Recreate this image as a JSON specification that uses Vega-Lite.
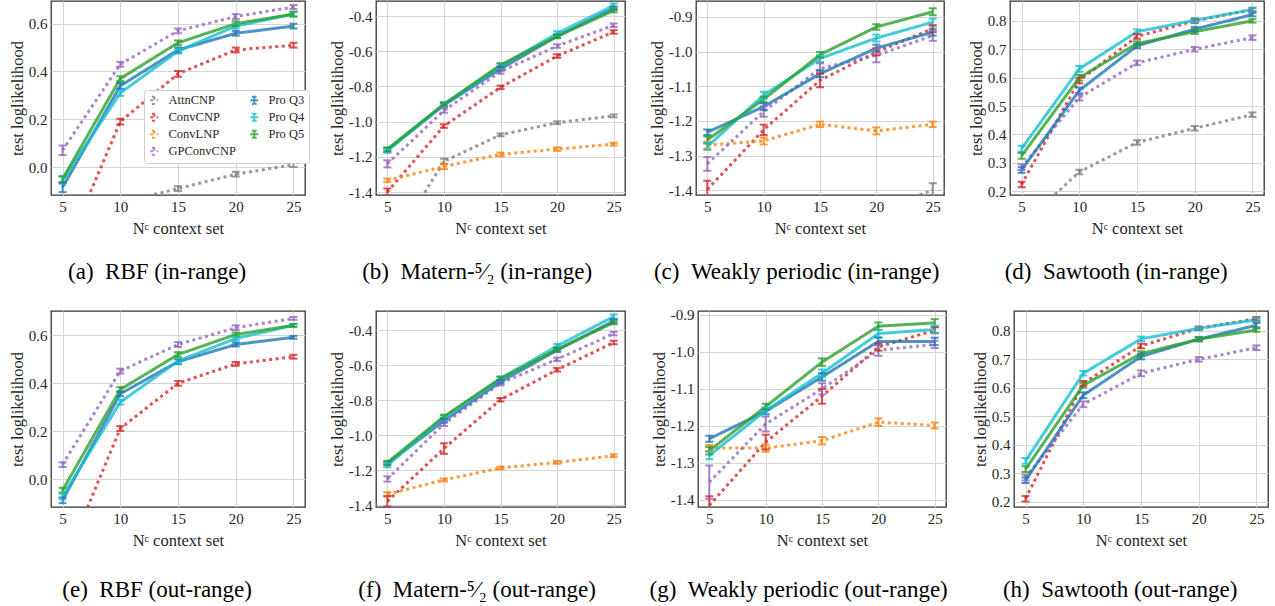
{
  "$schema": "https://vega.github.io/schema/vega-lite/v6.json",
  "padding": {"left": 8, "top": 0, "right": 0, "bottom": 0},
  "background": "white",
  "config": {
    "font": "Liberation Serif",
    "view": {"stroke": "#333333", "strokeWidth": 1.3},
    "axis": {"labelFont": "Liberation Serif", "labelFontSize": 15, "labelColor": "#262626", "titleFont": "Liberation Serif", "titleFontSize": 16.5, "titleFontWeight": "normal", "titleColor": "#262626", "gridColor": "#d5d5d5", "gridWidth": 1, "ticks": false, "domain": false, "labelPadding": 4},
    "title": {"font": "Liberation Serif", "fontSize": 23, "fontWeight": "normal", "color": "#000000"},
    "legend": {"labelFont": "Liberation Serif", "labelFontSize": 12.5}
  },
  "data": {"name": "d"},
  "datasets": {"d": [
{"panel":"a","model":"AttnCNP","n":5,"y":-0.5,"lo":-0.52,"hi":-0.48},
{"panel":"a","model":"AttnCNP","n":10,"y":-0.15,"lo":-0.16,"hi":-0.14},
{"panel":"a","model":"AttnCNP","n":15,"y":-0.09,"lo":-0.1,"hi":-0.08},
{"panel":"a","model":"AttnCNP","n":20,"y":-0.03,"lo":-0.04,"hi":-0.02},
{"panel":"a","model":"AttnCNP","n":25,"y":0.01,"lo":0.0,"hi":0.02},
{"panel":"a","model":"ConvCNP","n":5,"y":-0.38,"lo":-0.39,"hi":-0.37},
{"panel":"a","model":"ConvCNP","n":10,"y":0.19,"lo":0.178,"hi":0.202},
{"panel":"a","model":"ConvCNP","n":15,"y":0.39,"lo":0.378,"hi":0.402},
{"panel":"a","model":"ConvCNP","n":20,"y":0.49,"lo":0.48,"hi":0.5},
{"panel":"a","model":"ConvCNP","n":25,"y":0.51,"lo":0.5,"hi":0.52},
{"panel":"a","model":"GPConvCNP","n":5,"y":0.07,"lo":0.05,"hi":0.09},
{"panel":"a","model":"GPConvCNP","n":10,"y":0.43,"lo":0.42,"hi":0.44},
{"panel":"a","model":"GPConvCNP","n":15,"y":0.57,"lo":0.56,"hi":0.58},
{"panel":"a","model":"GPConvCNP","n":20,"y":0.63,"lo":0.62,"hi":0.64},
{"panel":"a","model":"GPConvCNP","n":25,"y":0.67,"lo":0.662,"hi":0.678},
{"panel":"a","model":"Pro Q3","n":5,"y":-0.085,"lo":-0.105,"hi":-0.065},
{"panel":"a","model":"Pro Q3","n":10,"y":0.34,"lo":0.328,"hi":0.352},
{"panel":"a","model":"Pro Q3","n":15,"y":0.49,"lo":0.48,"hi":0.5},
{"panel":"a","model":"Pro Q3","n":20,"y":0.56,"lo":0.55,"hi":0.57},
{"panel":"a","model":"Pro Q3","n":25,"y":0.59,"lo":0.58,"hi":0.6},
{"panel":"a","model":"Pro Q4","n":5,"y":-0.055,"lo":-0.07,"hi":-0.04},
{"panel":"a","model":"Pro Q4","n":10,"y":0.31,"lo":0.298,"hi":0.322},
{"panel":"a","model":"Pro Q4","n":15,"y":0.485,"lo":0.475,"hi":0.495},
{"panel":"a","model":"Pro Q4","n":20,"y":0.59,"lo":0.58,"hi":0.6},
{"panel":"a","model":"Pro Q4","n":25,"y":0.64,"lo":0.63,"hi":0.65},
{"panel":"a","model":"Pro Q5","n":5,"y":-0.05,"lo":-0.062,"hi":-0.038},
{"panel":"a","model":"Pro Q5","n":10,"y":0.37,"lo":0.36,"hi":0.38},
{"panel":"a","model":"Pro Q5","n":15,"y":0.52,"lo":0.51,"hi":0.53},
{"panel":"a","model":"Pro Q5","n":20,"y":0.6,"lo":0.59,"hi":0.61},
{"panel":"a","model":"Pro Q5","n":25,"y":0.64,"lo":0.63,"hi":0.65},

{"panel":"b","model":"AttnCNP","n":5,"y":-1.75,"lo":-1.77,"hi":-1.73},
{"panel":"b","model":"AttnCNP","n":10,"y":-1.225,"lo":-1.24,"hi":-1.21},
{"panel":"b","model":"AttnCNP","n":15,"y":-1.075,"lo":-1.083,"hi":-1.067},
{"panel":"b","model":"AttnCNP","n":20,"y":-1.006,"lo":-1.014,"hi":-0.998},
{"panel":"b","model":"AttnCNP","n":25,"y":-0.967,"lo":-0.975,"hi":-0.959},
{"panel":"b","model":"ConvCNP","n":5,"y":-1.4,"lo":-1.42,"hi":-1.38},
{"panel":"b","model":"ConvCNP","n":10,"y":-1.025,"lo":-1.035,"hi":-1.015},
{"panel":"b","model":"ConvCNP","n":15,"y":-0.805,"lo":-0.815,"hi":-0.795},
{"panel":"b","model":"ConvCNP","n":20,"y":-0.627,"lo":-0.637,"hi":-0.617},
{"panel":"b","model":"ConvCNP","n":25,"y":-0.49,"lo":-0.5,"hi":-0.48},
{"panel":"b","model":"ConvLNP","n":5,"y":-1.334,"lo":-1.344,"hi":-1.324},
{"panel":"b","model":"ConvLNP","n":10,"y":-1.255,"lo":-1.27,"hi":-1.24},
{"panel":"b","model":"ConvLNP","n":15,"y":-1.186,"lo":-1.196,"hi":-1.176},
{"panel":"b","model":"ConvLNP","n":20,"y":-1.156,"lo":-1.166,"hi":-1.146},
{"panel":"b","model":"ConvLNP","n":25,"y":-1.128,"lo":-1.136,"hi":-1.12},
{"panel":"b","model":"GPConvCNP","n":5,"y":-1.24,"lo":-1.26,"hi":-1.22},
{"panel":"b","model":"GPConvCNP","n":10,"y":-0.937,"lo":-0.949,"hi":-0.925},
{"panel":"b","model":"GPConvCNP","n":15,"y":-0.715,"lo":-0.727,"hi":-0.703},
{"panel":"b","model":"GPConvCNP","n":20,"y":-0.57,"lo":-0.58,"hi":-0.56},
{"panel":"b","model":"GPConvCNP","n":25,"y":-0.452,"lo":-0.462,"hi":-0.442},
{"panel":"b","model":"Pro Q3","n":5,"y":-1.162,"lo":-1.172,"hi":-1.152},
{"panel":"b","model":"Pro Q3","n":10,"y":-0.906,"lo":-0.916,"hi":-0.896},
{"panel":"b","model":"Pro Q3","n":15,"y":-0.7,"lo":-0.71,"hi":-0.69},
{"panel":"b","model":"Pro Q3","n":20,"y":-0.515,"lo":-0.525,"hi":-0.505},
{"panel":"b","model":"Pro Q3","n":25,"y":-0.355,"lo":-0.365,"hi":-0.345},
{"panel":"b","model":"Pro Q4","n":5,"y":-1.165,"lo":-1.177,"hi":-1.153},
{"panel":"b","model":"Pro Q4","n":10,"y":-0.903,"lo":-0.915,"hi":-0.891},
{"panel":"b","model":"Pro Q4","n":15,"y":-0.683,"lo":-0.695,"hi":-0.671},
{"panel":"b","model":"Pro Q4","n":20,"y":-0.498,"lo":-0.51,"hi":-0.486},
{"panel":"b","model":"Pro Q4","n":25,"y":-0.34,"lo":-0.352,"hi":-0.328},
{"panel":"b","model":"Pro Q5","n":5,"y":-1.156,"lo":-1.166,"hi":-1.146},
{"panel":"b","model":"Pro Q5","n":10,"y":-0.9,"lo":-0.91,"hi":-0.89},
{"panel":"b","model":"Pro Q5","n":15,"y":-0.678,"lo":-0.688,"hi":-0.668},
{"panel":"b","model":"Pro Q5","n":20,"y":-0.515,"lo":-0.525,"hi":-0.505},
{"panel":"b","model":"Pro Q5","n":25,"y":-0.368,"lo":-0.378,"hi":-0.358},

{"panel":"c","model":"AttnCNP","n":5,"y":-2.0,"lo":-2.02,"hi":-1.98},
{"panel":"c","model":"AttnCNP","n":10,"y":-1.7,"lo":-1.72,"hi":-1.68},
{"panel":"c","model":"AttnCNP","n":15,"y":-1.55,"lo":-1.57,"hi":-1.53},
{"panel":"c","model":"AttnCNP","n":20,"y":-1.46,"lo":-1.48,"hi":-1.44},
{"panel":"c","model":"AttnCNP","n":25,"y":-1.4,"lo":-1.42,"hi":-1.38},
{"panel":"c","model":"ConvCNP","n":5,"y":-1.398,"lo":-1.423,"hi":-1.373},
{"panel":"c","model":"ConvCNP","n":10,"y":-1.226,"lo":-1.241,"hi":-1.211},
{"panel":"c","model":"ConvCNP","n":15,"y":-1.083,"lo":-1.103,"hi":-1.063},
{"panel":"c","model":"ConvCNP","n":20,"y":-1.001,"lo":-1.011,"hi":-0.991},
{"panel":"c","model":"ConvCNP","n":25,"y":-0.934,"lo":-0.944,"hi":-0.924},
{"panel":"c","model":"ConvLNP","n":5,"y":-1.27,"lo":-1.28,"hi":-1.26},
{"panel":"c","model":"ConvLNP","n":10,"y":-1.258,"lo":-1.268,"hi":-1.248},
{"panel":"c","model":"ConvLNP","n":15,"y":-1.21,"lo":-1.218,"hi":-1.202},
{"panel":"c","model":"ConvLNP","n":20,"y":-1.229,"lo":-1.239,"hi":-1.219},
{"panel":"c","model":"ConvLNP","n":25,"y":-1.21,"lo":-1.218,"hi":-1.202},
{"panel":"c","model":"GPConvCNP","n":5,"y":-1.324,"lo":-1.344,"hi":-1.304},
{"panel":"c","model":"GPConvCNP","n":10,"y":-1.173,"lo":-1.188,"hi":-1.158},
{"panel":"c","model":"GPConvCNP","n":15,"y":-1.049,"lo":-1.064,"hi":-1.034},
{"panel":"c","model":"GPConvCNP","n":20,"y":-1.011,"lo":-1.031,"hi":-0.991},
{"panel":"c","model":"GPConvCNP","n":25,"y":-0.954,"lo":-0.969,"hi":-0.939},
{"panel":"c","model":"Pro Q3","n":5,"y":-1.233,"lo":-1.241,"hi":-1.225},
{"panel":"c","model":"Pro Q3","n":10,"y":-1.159,"lo":-1.169,"hi":-1.149},
{"panel":"c","model":"Pro Q3","n":15,"y":-1.064,"lo":-1.074,"hi":-1.054},
{"panel":"c","model":"Pro Q3","n":20,"y":-0.99,"lo":-1.0,"hi":-0.98},
{"panel":"c","model":"Pro Q3","n":25,"y":-0.944,"lo":-0.954,"hi":-0.934},
{"panel":"c","model":"Pro Q4","n":5,"y":-1.274,"lo":-1.284,"hi":-1.264},
{"panel":"c","model":"Pro Q4","n":10,"y":-1.126,"lo":-1.136,"hi":-1.116},
{"panel":"c","model":"Pro Q4","n":15,"y":-1.02,"lo":-1.03,"hi":-1.01},
{"panel":"c","model":"Pro Q4","n":20,"y":-0.961,"lo":-0.971,"hi":-0.951},
{"panel":"c","model":"Pro Q4","n":25,"y":-0.915,"lo":-0.925,"hi":-0.905},
{"panel":"c","model":"Pro Q5","n":5,"y":-1.255,"lo":-1.265,"hi":-1.245},
{"panel":"c","model":"Pro Q5","n":10,"y":-1.138,"lo":-1.146,"hi":-1.13},
{"panel":"c","model":"Pro Q5","n":15,"y":-1.009,"lo":-1.017,"hi":-1.001},
{"panel":"c","model":"Pro Q5","n":20,"y":-0.929,"lo":-0.937,"hi":-0.921},
{"panel":"c","model":"Pro Q5","n":25,"y":-0.885,"lo":-0.895,"hi":-0.875},

{"panel":"d","model":"AttnCNP","n":5,"y":0.08,"lo":0.07,"hi":0.09},
{"panel":"d","model":"AttnCNP","n":10,"y":0.268,"lo":0.26,"hi":0.276},
{"panel":"d","model":"AttnCNP","n":15,"y":0.372,"lo":0.364,"hi":0.38},
{"panel":"d","model":"AttnCNP","n":20,"y":0.422,"lo":0.414,"hi":0.43},
{"panel":"d","model":"AttnCNP","n":25,"y":0.47,"lo":0.462,"hi":0.478},
{"panel":"d","model":"ConvCNP","n":5,"y":0.224,"lo":0.214,"hi":0.234},
{"panel":"d","model":"ConvCNP","n":10,"y":0.59,"lo":0.58,"hi":0.6},
{"panel":"d","model":"ConvCNP","n":15,"y":0.745,"lo":0.737,"hi":0.753},
{"panel":"d","model":"ConvCNP","n":20,"y":0.8,"lo":0.792,"hi":0.808},
{"panel":"d","model":"ConvCNP","n":25,"y":0.84,"lo":0.834,"hi":0.846},
{"panel":"d","model":"GPConvCNP","n":5,"y":0.285,"lo":0.275,"hi":0.295},
{"panel":"d","model":"GPConvCNP","n":10,"y":0.53,"lo":0.52,"hi":0.54},
{"panel":"d","model":"GPConvCNP","n":15,"y":0.652,"lo":0.644,"hi":0.66},
{"panel":"d","model":"GPConvCNP","n":20,"y":0.7,"lo":0.692,"hi":0.708},
{"panel":"d","model":"GPConvCNP","n":25,"y":0.741,"lo":0.733,"hi":0.749},
{"panel":"d","model":"Pro Q3","n":5,"y":0.275,"lo":0.265,"hi":0.285},
{"panel":"d","model":"Pro Q3","n":10,"y":0.555,"lo":0.545,"hi":0.565},
{"panel":"d","model":"Pro Q3","n":15,"y":0.712,"lo":0.704,"hi":0.72},
{"panel":"d","model":"Pro Q3","n":20,"y":0.771,"lo":0.763,"hi":0.779},
{"panel":"d","model":"Pro Q3","n":25,"y":0.822,"lo":0.816,"hi":0.828},
{"panel":"d","model":"Pro Q4","n":5,"y":0.35,"lo":0.34,"hi":0.36},
{"panel":"d","model":"Pro Q4","n":10,"y":0.631,"lo":0.621,"hi":0.641},
{"panel":"d","model":"Pro Q4","n":15,"y":0.762,"lo":0.754,"hi":0.77},
{"panel":"d","model":"Pro Q4","n":20,"y":0.802,"lo":0.794,"hi":0.81},
{"panel":"d","model":"Pro Q4","n":25,"y":0.84,"lo":0.834,"hi":0.846},
{"panel":"d","model":"Pro Q5","n":5,"y":0.325,"lo":0.315,"hi":0.335},
{"panel":"d","model":"Pro Q5","n":10,"y":0.6,"lo":0.59,"hi":0.61},
{"panel":"d","model":"Pro Q5","n":15,"y":0.72,"lo":0.712,"hi":0.728},
{"panel":"d","model":"Pro Q5","n":20,"y":0.762,"lo":0.754,"hi":0.77},
{"panel":"d","model":"Pro Q5","n":25,"y":0.8,"lo":0.794,"hi":0.806},

{"panel":"e","model":"ConvCNP","n":5,"y":-0.37,"lo":-0.38,"hi":-0.36},
{"panel":"e","model":"ConvCNP","n":10,"y":0.211,"lo":0.201,"hi":0.221},
{"panel":"e","model":"ConvCNP","n":15,"y":0.4,"lo":0.39,"hi":0.41},
{"panel":"e","model":"ConvCNP","n":20,"y":0.481,"lo":0.473,"hi":0.489},
{"panel":"e","model":"ConvCNP","n":25,"y":0.511,"lo":0.503,"hi":0.519},
{"panel":"e","model":"GPConvCNP","n":5,"y":0.06,"lo":0.05,"hi":0.07},
{"panel":"e","model":"GPConvCNP","n":10,"y":0.451,"lo":0.441,"hi":0.461},
{"panel":"e","model":"GPConvCNP","n":15,"y":0.562,"lo":0.552,"hi":0.572},
{"panel":"e","model":"GPConvCNP","n":20,"y":0.632,"lo":0.622,"hi":0.642},
{"panel":"e","model":"GPConvCNP","n":25,"y":0.671,"lo":0.665,"hi":0.677},
{"panel":"e","model":"Pro Q3","n":5,"y":-0.089,"lo":-0.101,"hi":-0.077},
{"panel":"e","model":"Pro Q3","n":10,"y":0.356,"lo":0.346,"hi":0.366},
{"panel":"e","model":"Pro Q3","n":15,"y":0.49,"lo":0.48,"hi":0.5},
{"panel":"e","model":"Pro Q3","n":20,"y":0.562,"lo":0.554,"hi":0.57},
{"panel":"e","model":"Pro Q3","n":25,"y":0.592,"lo":0.586,"hi":0.598},
{"panel":"e","model":"Pro Q4","n":5,"y":-0.073,"lo":-0.085,"hi":-0.061},
{"panel":"e","model":"Pro Q4","n":10,"y":0.321,"lo":0.311,"hi":0.331},
{"panel":"e","model":"Pro Q4","n":15,"y":0.493,"lo":0.483,"hi":0.503},
{"panel":"e","model":"Pro Q4","n":20,"y":0.587,"lo":0.579,"hi":0.595},
{"panel":"e","model":"Pro Q4","n":25,"y":0.642,"lo":0.636,"hi":0.648},
{"panel":"e","model":"Pro Q5","n":5,"y":-0.047,"lo":-0.057,"hi":-0.037},
{"panel":"e","model":"Pro Q5","n":10,"y":0.374,"lo":0.364,"hi":0.384},
{"panel":"e","model":"Pro Q5","n":15,"y":0.52,"lo":0.51,"hi":0.53},
{"panel":"e","model":"Pro Q5","n":20,"y":0.604,"lo":0.596,"hi":0.612},
{"panel":"e","model":"Pro Q5","n":25,"y":0.642,"lo":0.636,"hi":0.648},

{"panel":"f","model":"ConvCNP","n":5,"y":-1.378,"lo":-1.408,"hi":-1.348},
{"panel":"f","model":"ConvCNP","n":10,"y":-1.076,"lo":-1.106,"hi":-1.046},
{"panel":"f","model":"ConvCNP","n":15,"y":-0.797,"lo":-0.807,"hi":-0.787},
{"panel":"f","model":"ConvCNP","n":20,"y":-0.626,"lo":-0.636,"hi":-0.616},
{"panel":"f","model":"ConvCNP","n":25,"y":-0.47,"lo":-0.48,"hi":-0.46},
{"panel":"f","model":"ConvLNP","n":5,"y":-1.337,"lo":-1.349,"hi":-1.325},
{"panel":"f","model":"ConvLNP","n":10,"y":-1.255,"lo":-1.263,"hi":-1.247},
{"panel":"f","model":"ConvLNP","n":15,"y":-1.187,"lo":-1.195,"hi":-1.179},
{"panel":"f","model":"ConvLNP","n":20,"y":-1.155,"lo":-1.163,"hi":-1.147},
{"panel":"f","model":"ConvLNP","n":25,"y":-1.117,"lo":-1.125,"hi":-1.109},
{"panel":"f","model":"GPConvCNP","n":5,"y":-1.25,"lo":-1.265,"hi":-1.235},
{"panel":"f","model":"GPConvCNP","n":10,"y":-0.935,"lo":-0.947,"hi":-0.923},
{"panel":"f","model":"GPConvCNP","n":15,"y":-0.703,"lo":-0.715,"hi":-0.691},
{"panel":"f","model":"GPConvCNP","n":20,"y":-0.566,"lo":-0.576,"hi":-0.556},
{"panel":"f","model":"GPConvCNP","n":25,"y":-0.419,"lo":-0.429,"hi":-0.409},
{"panel":"f","model":"Pro Q3","n":5,"y":-1.162,"lo":-1.172,"hi":-1.152},
{"panel":"f","model":"Pro Q3","n":10,"y":-0.918,"lo":-0.928,"hi":-0.908},
{"panel":"f","model":"Pro Q3","n":15,"y":-0.695,"lo":-0.705,"hi":-0.685},
{"panel":"f","model":"Pro Q3","n":20,"y":-0.514,"lo":-0.524,"hi":-0.504},
{"panel":"f","model":"Pro Q3","n":25,"y":-0.347,"lo":-0.357,"hi":-0.337},
{"panel":"f","model":"Pro Q4","n":5,"y":-1.171,"lo":-1.183,"hi":-1.159},
{"panel":"f","model":"Pro Q4","n":10,"y":-0.899,"lo":-0.911,"hi":-0.887},
{"panel":"f","model":"Pro Q4","n":15,"y":-0.676,"lo":-0.688,"hi":-0.664},
{"panel":"f","model":"Pro Q4","n":20,"y":-0.49,"lo":-0.502,"hi":-0.478},
{"panel":"f","model":"Pro Q4","n":25,"y":-0.322,"lo":-0.334,"hi":-0.31},
{"panel":"f","model":"Pro Q5","n":5,"y":-1.156,"lo":-1.166,"hi":-1.146},
{"panel":"f","model":"Pro Q5","n":10,"y":-0.893,"lo":-0.903,"hi":-0.883},
{"panel":"f","model":"Pro Q5","n":15,"y":-0.676,"lo":-0.686,"hi":-0.666},
{"panel":"f","model":"Pro Q5","n":20,"y":-0.509,"lo":-0.519,"hi":-0.499},
{"panel":"f","model":"Pro Q5","n":25,"y":-0.356,"lo":-0.366,"hi":-0.346},

{"panel":"g","model":"ConvCNP","n":5,"y":-1.415,"lo":-1.44,"hi":-1.39},
{"panel":"g","model":"ConvCNP","n":10,"y":-1.244,"lo":-1.264,"hi":-1.224},
{"panel":"g","model":"ConvCNP","n":15,"y":-1.12,"lo":-1.14,"hi":-1.1},
{"panel":"g","model":"ConvCNP","n":20,"y":-0.987,"lo":-0.997,"hi":-0.977},
{"panel":"g","model":"ConvCNP","n":25,"y":-0.942,"lo":-0.95,"hi":-0.934},
{"panel":"g","model":"ConvLNP","n":5,"y":-1.26,"lo":-1.268,"hi":-1.252},
{"panel":"g","model":"ConvLNP","n":10,"y":-1.26,"lo":-1.27,"hi":-1.25},
{"panel":"g","model":"ConvLNP","n":15,"y":-1.24,"lo":-1.25,"hi":-1.23},
{"panel":"g","model":"ConvLNP","n":20,"y":-1.19,"lo":-1.2,"hi":-1.18},
{"panel":"g","model":"ConvLNP","n":25,"y":-1.199,"lo":-1.207,"hi":-1.191},
{"panel":"g","model":"GPConvCNP","n":5,"y":-1.352,"lo":-1.397,"hi":-1.307},
{"panel":"g","model":"GPConvCNP","n":10,"y":-1.195,"lo":-1.215,"hi":-1.175},
{"panel":"g","model":"GPConvCNP","n":15,"y":-1.1,"lo":-1.115,"hi":-1.085},
{"panel":"g","model":"GPConvCNP","n":20,"y":-0.996,"lo":-1.011,"hi":-0.981},
{"panel":"g","model":"GPConvCNP","n":25,"y":-0.98,"lo":-0.99,"hi":-0.97},
{"panel":"g","model":"Pro Q3","n":5,"y":-1.235,"lo":-1.243,"hi":-1.227},
{"panel":"g","model":"Pro Q3","n":10,"y":-1.161,"lo":-1.169,"hi":-1.153},
{"panel":"g","model":"Pro Q3","n":15,"y":-1.068,"lo":-1.078,"hi":-1.058},
{"panel":"g","model":"Pro Q3","n":20,"y":-0.972,"lo":-0.982,"hi":-0.962},
{"panel":"g","model":"Pro Q3","n":25,"y":-0.972,"lo":-0.982,"hi":-0.962},
{"panel":"g","model":"Pro Q4","n":5,"y":-1.28,"lo":-1.29,"hi":-1.27},
{"panel":"g","model":"Pro Q4","n":10,"y":-1.159,"lo":-1.167,"hi":-1.151},
{"panel":"g","model":"Pro Q4","n":15,"y":-1.058,"lo":-1.068,"hi":-1.048},
{"panel":"g","model":"Pro Q4","n":20,"y":-0.951,"lo":-0.961,"hi":-0.941},
{"panel":"g","model":"Pro Q4","n":25,"y":-0.94,"lo":-0.95,"hi":-0.93},
{"panel":"g","model":"Pro Q5","n":5,"y":-1.267,"lo":-1.277,"hi":-1.257},
{"panel":"g","model":"Pro Q5","n":10,"y":-1.148,"lo":-1.156,"hi":-1.14},
{"panel":"g","model":"Pro Q5","n":15,"y":-1.028,"lo":-1.038,"hi":-1.018},
{"panel":"g","model":"Pro Q5","n":20,"y":-0.931,"lo":-0.941,"hi":-0.921},
{"panel":"g","model":"Pro Q5","n":25,"y":-0.922,"lo":-0.932,"hi":-0.912},

{"panel":"h","model":"ConvCNP","n":5,"y":0.21,"lo":0.2,"hi":0.22},
{"panel":"h","model":"ConvCNP","n":10,"y":0.616,"lo":0.608,"hi":0.624},
{"panel":"h","model":"ConvCNP","n":15,"y":0.747,"lo":0.739,"hi":0.755},
{"panel":"h","model":"ConvCNP","n":20,"y":0.809,"lo":0.803,"hi":0.815},
{"panel":"h","model":"ConvCNP","n":25,"y":0.843,"lo":0.837,"hi":0.849},
{"panel":"h","model":"GPConvCNP","n":5,"y":0.284,"lo":0.274,"hi":0.294},
{"panel":"h","model":"GPConvCNP","n":10,"y":0.542,"lo":0.532,"hi":0.552},
{"panel":"h","model":"GPConvCNP","n":15,"y":0.651,"lo":0.641,"hi":0.661},
{"panel":"h","model":"GPConvCNP","n":20,"y":0.7,"lo":0.692,"hi":0.708},
{"panel":"h","model":"GPConvCNP","n":25,"y":0.741,"lo":0.733,"hi":0.749},
{"panel":"h","model":"Pro Q3","n":5,"y":0.275,"lo":0.265,"hi":0.285},
{"panel":"h","model":"Pro Q3","n":10,"y":0.574,"lo":0.564,"hi":0.584},
{"panel":"h","model":"Pro Q3","n":15,"y":0.71,"lo":0.7,"hi":0.72},
{"panel":"h","model":"Pro Q3","n":20,"y":0.771,"lo":0.763,"hi":0.779},
{"panel":"h","model":"Pro Q3","n":25,"y":0.82,"lo":0.812,"hi":0.828},
{"panel":"h","model":"Pro Q4","n":5,"y":0.343,"lo":0.333,"hi":0.353},
{"panel":"h","model":"Pro Q4","n":10,"y":0.651,"lo":0.643,"hi":0.659},
{"panel":"h","model":"Pro Q4","n":15,"y":0.772,"lo":0.764,"hi":0.78},
{"panel":"h","model":"Pro Q4","n":20,"y":0.809,"lo":0.803,"hi":0.815},
{"panel":"h","model":"Pro Q4","n":25,"y":0.839,"lo":0.833,"hi":0.845},
{"panel":"h","model":"Pro Q5","n":5,"y":0.314,"lo":0.304,"hi":0.324},
{"panel":"h","model":"Pro Q5","n":10,"y":0.609,"lo":0.601,"hi":0.617},
{"panel":"h","model":"Pro Q5","n":15,"y":0.72,"lo":0.712,"hi":0.728},
{"panel":"h","model":"Pro Q5","n":20,"y":0.771,"lo":0.765,"hi":0.777},
{"panel":"h","model":"Pro Q5","n":25,"y":0.803,"lo":0.797,"hi":0.809}
  ]},
  "spacing": 22,
  "resolve": {"scale": {"color": "shared", "strokeDash": "shared"}, "legend": {"color": "shared"}},
  "vconcat": [
    {"spacing": 22, "resolve": {"scale": {"color": "shared", "strokeDash": "shared"}, "legend": {"color": "shared"}},
     "hconcat": [
      {"width": 254, "height": 194,
       "title": {"text": "(a)\u2002RBF (in-range)", "orient": "bottom", "anchor": "middle", "frame": "bounds", "offset": 24, "font": "Liberation Serif", "fontSize": 23, "fontWeight": "normal", "color": "#000000"},
       "transform": [{"filter": "datum.panel === 'a'"}],
       "encoding": {
         "x": {"field": "n", "type": "quantitative", "scale": {"domain": [4, 26], "nice": false}, "axis": {"values": [5, 10, 15, 20, 25], "labelFont": "Liberation Serif", "labelFontSize": 15, "labelColor": "#262626", "labelPadding": 4, "titleFont": "Liberation Serif", "titleFontSize": 16.5, "titleFontWeight": "normal", "titleColor": "#262626", "titlePadding": 6, "gridColor": "#d5d5d5", "ticks": false, "domain": false}, "title": "N\u1d9c context set"},
         "y": {"field": "y", "type": "quantitative", "scale": {"domain": [-0.117, 0.695], "nice": false, "zero": false}, "axis": {"values": [0, 0.2, 0.4, 0.6], "format": ".1f", "labelExpr": "replace(datum.label, '\u2212', '-')", "labelFont": "Liberation Serif", "labelFontSize": 15, "labelColor": "#262626", "labelPadding": 4, "titleFont": "Liberation Serif", "titleFontSize": 16.5, "titleFontWeight": "normal", "titleColor": "#262626", "titlePadding": 3, "gridColor": "#d5d5d5", "ticks": false, "domain": false}, "title": "test loglikelihood"},
         "color": {"field": "model", "type": "nominal", "scale": {"domain": ["AttnCNP", "ConvCNP", "ConvLNP", "GPConvCNP", "Pro Q3", "Pro Q4", "Pro Q5"], "range": ["#7f7f7f", "#d62728", "#ff7f0e", "#9467bd", "#1f77b4", "#17becf", "#2ca02c"]}, "legend": {"title": null, "orient": "none", "legendX": 93, "legendY": 89, "columns": 2, "fillColor": "#ffffff", "strokeColor": "#cccccc", "cornerRadius": 3, "padding": 4, "labelFont": "Liberation Serif", "labelFontSize": 12.5, "labelColor": "#262626", "symbolType": "M-1,0H1M-0.6,-0.9H0.6M0,-0.9V0.9M-0.6,0.9H0.6", "symbolSize": 64, "symbolStrokeWidth": 2, "symbolOpacity": 0.8, "columnPadding": 10, "rowPadding": 1, "labelOffset": 8}}
       },
       "layer": [
         {"mark": {"type": "line", "clip": true, "strokeWidth": 3, "opacity": 0.8},
          "encoding": {"strokeDash": {"field": "model", "type": "nominal", "scale": {"domain": ["AttnCNP", "ConvCNP", "ConvLNP", "GPConvCNP", "Pro Q3", "Pro Q4", "Pro Q5"], "range": [[3, 3.5], [3, 3.5], [3, 3.5], [3, 3.5], [1, 0], [1, 0], [1, 0]]}, "legend": null}}},
         {"mark": {"type": "rule", "clip": true, "strokeWidth": 2, "opacity": 0.8}, "encoding": {"y": {"field": "lo", "type": "quantitative", "title": "test loglikelihood"}, "y2": {"field": "hi"}}},
         {"mark": {"type": "tick", "clip": true, "orient": "horizontal", "size": 8, "thickness": 2, "opacity": 0.8}, "encoding": {"y": {"field": "lo", "type": "quantitative", "title": "test loglikelihood"}}},
         {"mark": {"type": "tick", "clip": true, "orient": "horizontal", "size": 8, "thickness": 2, "opacity": 0.8}, "encoding": {"y": {"field": "hi", "type": "quantitative", "title": "test loglikelihood"}}}
       ]},
      {"width": 249, "height": 194,
       "title": {"text": "(b)\u2002Matern-\u2075\u2044\u2082 (in-range)", "orient": "bottom", "anchor": "middle", "frame": "bounds", "offset": 24, "font": "Liberation Serif", "fontSize": 23, "fontWeight": "normal", "color": "#000000"},
       "transform": [{"filter": "datum.panel === 'b'"}],
       "encoding": {
         "x": {"field": "n", "type": "quantitative", "scale": {"domain": [4, 26], "nice": false}, "axis": {"values": [5, 10, 15, 20, 25], "labelFont": "Liberation Serif", "labelFontSize": 15, "labelColor": "#262626", "labelPadding": 4, "titleFont": "Liberation Serif", "titleFontSize": 16.5, "titleFontWeight": "normal", "titleColor": "#262626", "titlePadding": 6, "gridColor": "#d5d5d5", "ticks": false, "domain": false}, "title": "N\u1d9c context set"},
         "y": {"field": "y", "type": "quantitative", "scale": {"domain": [-1.417, -0.314], "nice": false, "zero": false}, "axis": {"values": [-1.4, -1.2, -1.0, -0.8, -0.6, -0.4], "format": ".1f", "labelExpr": "replace(datum.label, '\u2212', '-')", "labelFont": "Liberation Serif", "labelFontSize": 15, "labelColor": "#262626", "labelPadding": 4, "titleFont": "Liberation Serif", "titleFontSize": 16.5, "titleFontWeight": "normal", "titleColor": "#262626", "titlePadding": 3, "gridColor": "#d5d5d5", "ticks": false, "domain": false}, "title": "test loglikelihood"},
         "color": {"field": "model", "type": "nominal", "scale": {"domain": ["AttnCNP", "ConvCNP", "ConvLNP", "GPConvCNP", "Pro Q3", "Pro Q4", "Pro Q5"], "range": ["#7f7f7f", "#d62728", "#ff7f0e", "#9467bd", "#1f77b4", "#17becf", "#2ca02c"]}, "legend": {"title": null, "orient": "none", "legendX": 93, "legendY": 89, "columns": 2, "fillColor": "#ffffff", "strokeColor": "#cccccc", "cornerRadius": 3, "padding": 4, "labelFont": "Liberation Serif", "labelFontSize": 12.5, "labelColor": "#262626", "symbolType": "M-1,0H1M-0.6,-0.9H0.6M0,-0.9V0.9M-0.6,0.9H0.6", "symbolSize": 64, "symbolStrokeWidth": 2, "symbolOpacity": 0.8, "columnPadding": 10, "rowPadding": 1, "labelOffset": 8}}
       },
       "layer": [
         {"mark": {"type": "line", "clip": true, "strokeWidth": 3, "opacity": 0.8},
          "encoding": {"strokeDash": {"field": "model", "type": "nominal", "scale": {"domain": ["AttnCNP", "ConvCNP", "ConvLNP", "GPConvCNP", "Pro Q3", "Pro Q4", "Pro Q5"], "range": [[3, 3.5], [3, 3.5], [3, 3.5], [3, 3.5], [1, 0], [1, 0], [1, 0]]}, "legend": null}}},
         {"mark": {"type": "rule", "clip": true, "strokeWidth": 2, "opacity": 0.8}, "encoding": {"y": {"field": "lo", "type": "quantitative", "title": "test loglikelihood"}, "y2": {"field": "hi"}}},
         {"mark": {"type": "tick", "clip": true, "orient": "horizontal", "size": 8, "thickness": 2, "opacity": 0.8}, "encoding": {"y": {"field": "lo", "type": "quantitative", "title": "test loglikelihood"}}},
         {"mark": {"type": "tick", "clip": true, "orient": "horizontal", "size": 8, "thickness": 2, "opacity": 0.8}, "encoding": {"y": {"field": "hi", "type": "quantitative", "title": "test loglikelihood"}}}
       ]},
      {"width": 248, "height": 194,
       "title": {"text": "(c)\u2002Weakly periodic (in-range)", "orient": "bottom", "anchor": "middle", "frame": "bounds", "offset": 24, "font": "Liberation Serif", "fontSize": 23, "fontWeight": "normal", "color": "#000000"},
       "transform": [{"filter": "datum.panel === 'c'"}],
       "encoding": {
         "x": {"field": "n", "type": "quantitative", "scale": {"domain": [4, 26], "nice": false}, "axis": {"values": [5, 10, 15, 20, 25], "labelFont": "Liberation Serif", "labelFontSize": 15, "labelColor": "#262626", "labelPadding": 4, "titleFont": "Liberation Serif", "titleFontSize": 16.5, "titleFontWeight": "normal", "titleColor": "#262626", "titlePadding": 6, "gridColor": "#d5d5d5", "ticks": false, "domain": false}, "title": "N\u1d9c context set"},
         "y": {"field": "y", "type": "quantitative", "scale": {"domain": [-1.414, -0.854], "nice": false, "zero": false}, "axis": {"values": [-1.4, -1.3, -1.2, -1.1, -1.0, -0.9], "format": ".1f", "labelExpr": "replace(datum.label, '\u2212', '-')", "labelFont": "Liberation Serif", "labelFontSize": 15, "labelColor": "#262626", "labelPadding": 4, "titleFont": "Liberation Serif", "titleFontSize": 16.5, "titleFontWeight": "normal", "titleColor": "#262626", "titlePadding": 3, "gridColor": "#d5d5d5", "ticks": false, "domain": false}, "title": "test loglikelihood"},
         "color": {"field": "model", "type": "nominal", "scale": {"domain": ["AttnCNP", "ConvCNP", "ConvLNP", "GPConvCNP", "Pro Q3", "Pro Q4", "Pro Q5"], "range": ["#7f7f7f", "#d62728", "#ff7f0e", "#9467bd", "#1f77b4", "#17becf", "#2ca02c"]}, "legend": {"title": null, "orient": "none", "legendX": 93, "legendY": 89, "columns": 2, "fillColor": "#ffffff", "strokeColor": "#cccccc", "cornerRadius": 3, "padding": 4, "labelFont": "Liberation Serif", "labelFontSize": 12.5, "labelColor": "#262626", "symbolType": "M-1,0H1M-0.6,-0.9H0.6M0,-0.9V0.9M-0.6,0.9H0.6", "symbolSize": 64, "symbolStrokeWidth": 2, "symbolOpacity": 0.8, "columnPadding": 10, "rowPadding": 1, "labelOffset": 8}}
       },
       "layer": [
         {"mark": {"type": "line", "clip": true, "strokeWidth": 3, "opacity": 0.8},
          "encoding": {"strokeDash": {"field": "model", "type": "nominal", "scale": {"domain": ["AttnCNP", "ConvCNP", "ConvLNP", "GPConvCNP", "Pro Q3", "Pro Q4", "Pro Q5"], "range": [[3, 3.5], [3, 3.5], [3, 3.5], [3, 3.5], [1, 0], [1, 0], [1, 0]]}, "legend": null}}},
         {"mark": {"type": "rule", "clip": true, "strokeWidth": 2, "opacity": 0.8}, "encoding": {"y": {"field": "lo", "type": "quantitative", "title": "test loglikelihood"}, "y2": {"field": "hi"}}},
         {"mark": {"type": "tick", "clip": true, "orient": "horizontal", "size": 8, "thickness": 2, "opacity": 0.8}, "encoding": {"y": {"field": "lo", "type": "quantitative", "title": "test loglikelihood"}}},
         {"mark": {"type": "tick", "clip": true, "orient": "horizontal", "size": 8, "thickness": 2, "opacity": 0.8}, "encoding": {"y": {"field": "hi", "type": "quantitative", "title": "test loglikelihood"}}}
       ]},
      {"width": 254, "height": 194,
       "title": {"text": "(d)\u2002Sawtooth (in-range)", "orient": "bottom", "anchor": "middle", "frame": "bounds", "offset": 24, "font": "Liberation Serif", "fontSize": 23, "fontWeight": "normal", "color": "#000000"},
       "transform": [{"filter": "datum.panel === 'd'"}],
       "encoding": {
         "x": {"field": "n", "type": "quantitative", "scale": {"domain": [4, 26], "nice": false}, "axis": {"values": [5, 10, 15, 20, 25], "labelFont": "Liberation Serif", "labelFontSize": 15, "labelColor": "#262626", "labelPadding": 4, "titleFont": "Liberation Serif", "titleFontSize": 16.5, "titleFontWeight": "normal", "titleColor": "#262626", "titlePadding": 6, "gridColor": "#d5d5d5", "ticks": false, "domain": false}, "title": "N\u1d9c context set"},
         "y": {"field": "y", "type": "quantitative", "scale": {"domain": [0.187, 0.87], "nice": false, "zero": false}, "axis": {"values": [0.2, 0.3, 0.4, 0.5, 0.6, 0.7, 0.8], "format": ".1f", "labelExpr": "replace(datum.label, '\u2212', '-')", "labelFont": "Liberation Serif", "labelFontSize": 15, "labelColor": "#262626", "labelPadding": 4, "titleFont": "Liberation Serif", "titleFontSize": 16.5, "titleFontWeight": "normal", "titleColor": "#262626", "titlePadding": 3, "gridColor": "#d5d5d5", "ticks": false, "domain": false}, "title": "test loglikelihood"},
         "color": {"field": "model", "type": "nominal", "scale": {"domain": ["AttnCNP", "ConvCNP", "ConvLNP", "GPConvCNP", "Pro Q3", "Pro Q4", "Pro Q5"], "range": ["#7f7f7f", "#d62728", "#ff7f0e", "#9467bd", "#1f77b4", "#17becf", "#2ca02c"]}, "legend": {"title": null, "orient": "none", "legendX": 93, "legendY": 89, "columns": 2, "fillColor": "#ffffff", "strokeColor": "#cccccc", "cornerRadius": 3, "padding": 4, "labelFont": "Liberation Serif", "labelFontSize": 12.5, "labelColor": "#262626", "symbolType": "M-1,0H1M-0.6,-0.9H0.6M0,-0.9V0.9M-0.6,0.9H0.6", "symbolSize": 64, "symbolStrokeWidth": 2, "symbolOpacity": 0.8, "columnPadding": 10, "rowPadding": 1, "labelOffset": 8}}
       },
       "layer": [
         {"mark": {"type": "line", "clip": true, "strokeWidth": 3, "opacity": 0.8},
          "encoding": {"strokeDash": {"field": "model", "type": "nominal", "scale": {"domain": ["AttnCNP", "ConvCNP", "ConvLNP", "GPConvCNP", "Pro Q3", "Pro Q4", "Pro Q5"], "range": [[3, 3.5], [3, 3.5], [3, 3.5], [3, 3.5], [1, 0], [1, 0], [1, 0]]}, "legend": null}}},
         {"mark": {"type": "rule", "clip": true, "strokeWidth": 2, "opacity": 0.8}, "encoding": {"y": {"field": "lo", "type": "quantitative", "title": "test loglikelihood"}, "y2": {"field": "hi"}}},
         {"mark": {"type": "tick", "clip": true, "orient": "horizontal", "size": 8, "thickness": 2, "opacity": 0.8}, "encoding": {"y": {"field": "lo", "type": "quantitative", "title": "test loglikelihood"}}},
         {"mark": {"type": "tick", "clip": true, "orient": "horizontal", "size": 8, "thickness": 2, "opacity": 0.8}, "encoding": {"y": {"field": "hi", "type": "quantitative", "title": "test loglikelihood"}}}
       ]}
    ]},
    {"spacing": 22, "resolve": {"scale": {"color": "shared", "strokeDash": "shared"}, "legend": {"color": "shared"}},
     "hconcat": [
      {"width": 254, "height": 196,
       "title": {"text": "(e)\u2002RBF (out-range)", "orient": "bottom", "anchor": "middle", "frame": "bounds", "offset": 30, "font": "Liberation Serif", "fontSize": 23, "fontWeight": "normal", "color": "#000000"},
       "transform": [{"filter": "datum.panel === 'e'"}],
       "encoding": {
         "x": {"field": "n", "type": "quantitative", "scale": {"domain": [4, 26], "nice": false}, "axis": {"values": [5, 10, 15, 20, 25], "labelFont": "Liberation Serif", "labelFontSize": 15, "labelColor": "#262626", "labelPadding": 4, "titleFont": "Liberation Serif", "titleFontSize": 16.5, "titleFontWeight": "normal", "titleColor": "#262626", "titlePadding": 6, "gridColor": "#d5d5d5", "ticks": false, "domain": false}, "title": "N\u1d9c context set"},
         "y": {"field": "y", "type": "quantitative", "scale": {"domain": [-0.117, 0.702], "nice": false, "zero": false}, "axis": {"values": [0, 0.2, 0.4, 0.6], "format": ".1f", "labelExpr": "replace(datum.label, '\u2212', '-')", "labelFont": "Liberation Serif", "labelFontSize": 15, "labelColor": "#262626", "labelPadding": 4, "titleFont": "Liberation Serif", "titleFontSize": 16.5, "titleFontWeight": "normal", "titleColor": "#262626", "titlePadding": 3, "gridColor": "#d5d5d5", "ticks": false, "domain": false}, "title": "test loglikelihood"},
         "color": {"field": "model", "type": "nominal", "scale": {"domain": ["AttnCNP", "ConvCNP", "ConvLNP", "GPConvCNP", "Pro Q3", "Pro Q4", "Pro Q5"], "range": ["#7f7f7f", "#d62728", "#ff7f0e", "#9467bd", "#1f77b4", "#17becf", "#2ca02c"]}, "legend": {"title": null, "orient": "none", "legendX": 93, "legendY": 89, "columns": 2, "fillColor": "#ffffff", "strokeColor": "#cccccc", "cornerRadius": 3, "padding": 4, "labelFont": "Liberation Serif", "labelFontSize": 12.5, "labelColor": "#262626", "symbolType": "M-1,0H1M-0.6,-0.9H0.6M0,-0.9V0.9M-0.6,0.9H0.6", "symbolSize": 64, "symbolStrokeWidth": 2, "symbolOpacity": 0.8, "columnPadding": 10, "rowPadding": 1, "labelOffset": 8}}
       },
       "layer": [
         {"mark": {"type": "line", "clip": true, "strokeWidth": 3, "opacity": 0.8},
          "encoding": {"strokeDash": {"field": "model", "type": "nominal", "scale": {"domain": ["AttnCNP", "ConvCNP", "ConvLNP", "GPConvCNP", "Pro Q3", "Pro Q4", "Pro Q5"], "range": [[3, 3.5], [3, 3.5], [3, 3.5], [3, 3.5], [1, 0], [1, 0], [1, 0]]}, "legend": null}}},
         {"mark": {"type": "rule", "clip": true, "strokeWidth": 2, "opacity": 0.8}, "encoding": {"y": {"field": "lo", "type": "quantitative", "title": "test loglikelihood"}, "y2": {"field": "hi"}}},
         {"mark": {"type": "tick", "clip": true, "orient": "horizontal", "size": 8, "thickness": 2, "opacity": 0.8}, "encoding": {"y": {"field": "lo", "type": "quantitative", "title": "test loglikelihood"}}},
         {"mark": {"type": "tick", "clip": true, "orient": "horizontal", "size": 8, "thickness": 2, "opacity": 0.8}, "encoding": {"y": {"field": "hi", "type": "quantitative", "title": "test loglikelihood"}}}
       ]},
      {"width": 249, "height": 196,
       "title": {"text": "(f)\u2002Matern-\u2075\u2044\u2082 (out-range)", "orient": "bottom", "anchor": "middle", "frame": "bounds", "offset": 30, "font": "Liberation Serif", "fontSize": 23, "fontWeight": "normal", "color": "#000000"},
       "transform": [{"filter": "datum.panel === 'f'"}],
       "encoding": {
         "x": {"field": "n", "type": "quantitative", "scale": {"domain": [4, 26], "nice": false}, "axis": {"values": [5, 10, 15, 20, 25], "labelFont": "Liberation Serif", "labelFontSize": 15, "labelColor": "#262626", "labelPadding": 4, "titleFont": "Liberation Serif", "titleFontSize": 16.5, "titleFontWeight": "normal", "titleColor": "#262626", "titlePadding": 6, "gridColor": "#d5d5d5", "ticks": false, "domain": false}, "title": "N\u1d9c context set"},
         "y": {"field": "y", "type": "quantitative", "scale": {"domain": [-1.41, -0.29], "nice": false, "zero": false}, "axis": {"values": [-1.4, -1.2, -1.0, -0.8, -0.6, -0.4], "format": ".1f", "labelExpr": "replace(datum.label, '\u2212', '-')", "labelFont": "Liberation Serif", "labelFontSize": 15, "labelColor": "#262626", "labelPadding": 4, "titleFont": "Liberation Serif", "titleFontSize": 16.5, "titleFontWeight": "normal", "titleColor": "#262626", "titlePadding": 3, "gridColor": "#d5d5d5", "ticks": false, "domain": false}, "title": "test loglikelihood"},
         "color": {"field": "model", "type": "nominal", "scale": {"domain": ["AttnCNP", "ConvCNP", "ConvLNP", "GPConvCNP", "Pro Q3", "Pro Q4", "Pro Q5"], "range": ["#7f7f7f", "#d62728", "#ff7f0e", "#9467bd", "#1f77b4", "#17becf", "#2ca02c"]}, "legend": {"title": null, "orient": "none", "legendX": 93, "legendY": 89, "columns": 2, "fillColor": "#ffffff", "strokeColor": "#cccccc", "cornerRadius": 3, "padding": 4, "labelFont": "Liberation Serif", "labelFontSize": 12.5, "labelColor": "#262626", "symbolType": "M-1,0H1M-0.6,-0.9H0.6M0,-0.9V0.9M-0.6,0.9H0.6", "symbolSize": 64, "symbolStrokeWidth": 2, "symbolOpacity": 0.8, "columnPadding": 10, "rowPadding": 1, "labelOffset": 8}}
       },
       "layer": [
         {"mark": {"type": "line", "clip": true, "strokeWidth": 3, "opacity": 0.8},
          "encoding": {"strokeDash": {"field": "model", "type": "nominal", "scale": {"domain": ["AttnCNP", "ConvCNP", "ConvLNP", "GPConvCNP", "Pro Q3", "Pro Q4", "Pro Q5"], "range": [[3, 3.5], [3, 3.5], [3, 3.5], [3, 3.5], [1, 0], [1, 0], [1, 0]]}, "legend": null}}},
         {"mark": {"type": "rule", "clip": true, "strokeWidth": 2, "opacity": 0.8}, "encoding": {"y": {"field": "lo", "type": "quantitative", "title": "test loglikelihood"}, "y2": {"field": "hi"}}},
         {"mark": {"type": "tick", "clip": true, "orient": "horizontal", "size": 8, "thickness": 2, "opacity": 0.8}, "encoding": {"y": {"field": "lo", "type": "quantitative", "title": "test loglikelihood"}}},
         {"mark": {"type": "tick", "clip": true, "orient": "horizontal", "size": 8, "thickness": 2, "opacity": 0.8}, "encoding": {"y": {"field": "hi", "type": "quantitative", "title": "test loglikelihood"}}}
       ]},
      {"width": 248, "height": 196,
       "title": {"text": "(g)\u2002Weakly periodic (out-range)", "orient": "bottom", "anchor": "middle", "frame": "bounds", "offset": 30, "font": "Liberation Serif", "fontSize": 23, "fontWeight": "normal", "color": "#000000"},
       "transform": [{"filter": "datum.panel === 'g'"}],
       "encoding": {
         "x": {"field": "n", "type": "quantitative", "scale": {"domain": [4, 26], "nice": false}, "axis": {"values": [5, 10, 15, 20, 25], "labelFont": "Liberation Serif", "labelFontSize": 15, "labelColor": "#262626", "labelPadding": 4, "titleFont": "Liberation Serif", "titleFontSize": 16.5, "titleFontWeight": "normal", "titleColor": "#262626", "titlePadding": 6, "gridColor": "#d5d5d5", "ticks": false, "domain": false}, "title": "N\u1d9c context set"},
         "y": {"field": "y", "type": "quantitative", "scale": {"domain": [-1.419, -0.89], "nice": false, "zero": false}, "axis": {"values": [-1.4, -1.3, -1.2, -1.1, -1.0, -0.9], "format": ".1f", "labelExpr": "replace(datum.label, '\u2212', '-')", "labelFont": "Liberation Serif", "labelFontSize": 15, "labelColor": "#262626", "labelPadding": 4, "titleFont": "Liberation Serif", "titleFontSize": 16.5, "titleFontWeight": "normal", "titleColor": "#262626", "titlePadding": 3, "gridColor": "#d5d5d5", "ticks": false, "domain": false}, "title": "test loglikelihood"},
         "color": {"field": "model", "type": "nominal", "scale": {"domain": ["AttnCNP", "ConvCNP", "ConvLNP", "GPConvCNP", "Pro Q3", "Pro Q4", "Pro Q5"], "range": ["#7f7f7f", "#d62728", "#ff7f0e", "#9467bd", "#1f77b4", "#17becf", "#2ca02c"]}, "legend": {"title": null, "orient": "none", "legendX": 93, "legendY": 89, "columns": 2, "fillColor": "#ffffff", "strokeColor": "#cccccc", "cornerRadius": 3, "padding": 4, "labelFont": "Liberation Serif", "labelFontSize": 12.5, "labelColor": "#262626", "symbolType": "M-1,0H1M-0.6,-0.9H0.6M0,-0.9V0.9M-0.6,0.9H0.6", "symbolSize": 64, "symbolStrokeWidth": 2, "symbolOpacity": 0.8, "columnPadding": 10, "rowPadding": 1, "labelOffset": 8}}
       },
       "layer": [
         {"mark": {"type": "line", "clip": true, "strokeWidth": 3, "opacity": 0.8},
          "encoding": {"strokeDash": {"field": "model", "type": "nominal", "scale": {"domain": ["AttnCNP", "ConvCNP", "ConvLNP", "GPConvCNP", "Pro Q3", "Pro Q4", "Pro Q5"], "range": [[3, 3.5], [3, 3.5], [3, 3.5], [3, 3.5], [1, 0], [1, 0], [1, 0]]}, "legend": null}}},
         {"mark": {"type": "rule", "clip": true, "strokeWidth": 2, "opacity": 0.8}, "encoding": {"y": {"field": "lo", "type": "quantitative", "title": "test loglikelihood"}, "y2": {"field": "hi"}}},
         {"mark": {"type": "tick", "clip": true, "orient": "horizontal", "size": 8, "thickness": 2, "opacity": 0.8}, "encoding": {"y": {"field": "lo", "type": "quantitative", "title": "test loglikelihood"}}},
         {"mark": {"type": "tick", "clip": true, "orient": "horizontal", "size": 8, "thickness": 2, "opacity": 0.8}, "encoding": {"y": {"field": "hi", "type": "quantitative", "title": "test loglikelihood"}}}
       ]},
      {"width": 254, "height": 196,
       "title": {"text": "(h)\u2002Sawtooth (out-range)", "orient": "bottom", "anchor": "middle", "frame": "bounds", "offset": 30, "font": "Liberation Serif", "fontSize": 23, "fontWeight": "normal", "color": "#000000"},
       "transform": [{"filter": "datum.panel === 'h'"}],
       "encoding": {
         "x": {"field": "n", "type": "quantitative", "scale": {"domain": [4, 26], "nice": false}, "axis": {"values": [5, 10, 15, 20, 25], "labelFont": "Liberation Serif", "labelFontSize": 15, "labelColor": "#262626", "labelPadding": 4, "titleFont": "Liberation Serif", "titleFontSize": 16.5, "titleFontWeight": "normal", "titleColor": "#262626", "titlePadding": 6, "gridColor": "#d5d5d5", "ticks": false, "domain": false}, "title": "N\u1d9c context set"},
         "y": {"field": "y", "type": "quantitative", "scale": {"domain": [0.181, 0.87], "nice": false, "zero": false}, "axis": {"values": [0.2, 0.3, 0.4, 0.5, 0.6, 0.7, 0.8], "format": ".1f", "labelExpr": "replace(datum.label, '\u2212', '-')", "labelFont": "Liberation Serif", "labelFontSize": 15, "labelColor": "#262626", "labelPadding": 4, "titleFont": "Liberation Serif", "titleFontSize": 16.5, "titleFontWeight": "normal", "titleColor": "#262626", "titlePadding": 3, "gridColor": "#d5d5d5", "ticks": false, "domain": false}, "title": "test loglikelihood"},
         "color": {"field": "model", "type": "nominal", "scale": {"domain": ["AttnCNP", "ConvCNP", "ConvLNP", "GPConvCNP", "Pro Q3", "Pro Q4", "Pro Q5"], "range": ["#7f7f7f", "#d62728", "#ff7f0e", "#9467bd", "#1f77b4", "#17becf", "#2ca02c"]}, "legend": {"title": null, "orient": "none", "legendX": 93, "legendY": 89, "columns": 2, "fillColor": "#ffffff", "strokeColor": "#cccccc", "cornerRadius": 3, "padding": 4, "labelFont": "Liberation Serif", "labelFontSize": 12.5, "labelColor": "#262626", "symbolType": "M-1,0H1M-0.6,-0.9H0.6M0,-0.9V0.9M-0.6,0.9H0.6", "symbolSize": 64, "symbolStrokeWidth": 2, "symbolOpacity": 0.8, "columnPadding": 10, "rowPadding": 1, "labelOffset": 8}}
       },
       "layer": [
         {"mark": {"type": "line", "clip": true, "strokeWidth": 3, "opacity": 0.8},
          "encoding": {"strokeDash": {"field": "model", "type": "nominal", "scale": {"domain": ["AttnCNP", "ConvCNP", "ConvLNP", "GPConvCNP", "Pro Q3", "Pro Q4", "Pro Q5"], "range": [[3, 3.5], [3, 3.5], [3, 3.5], [3, 3.5], [1, 0], [1, 0], [1, 0]]}, "legend": null}}},
         {"mark": {"type": "rule", "clip": true, "strokeWidth": 2, "opacity": 0.8}, "encoding": {"y": {"field": "lo", "type": "quantitative", "title": "test loglikelihood"}, "y2": {"field": "hi"}}},
         {"mark": {"type": "tick", "clip": true, "orient": "horizontal", "size": 8, "thickness": 2, "opacity": 0.8}, "encoding": {"y": {"field": "lo", "type": "quantitative", "title": "test loglikelihood"}}},
         {"mark": {"type": "tick", "clip": true, "orient": "horizontal", "size": 8, "thickness": 2, "opacity": 0.8}, "encoding": {"y": {"field": "hi", "type": "quantitative", "title": "test loglikelihood"}}}
       ]}
    ]}
  ]
}
